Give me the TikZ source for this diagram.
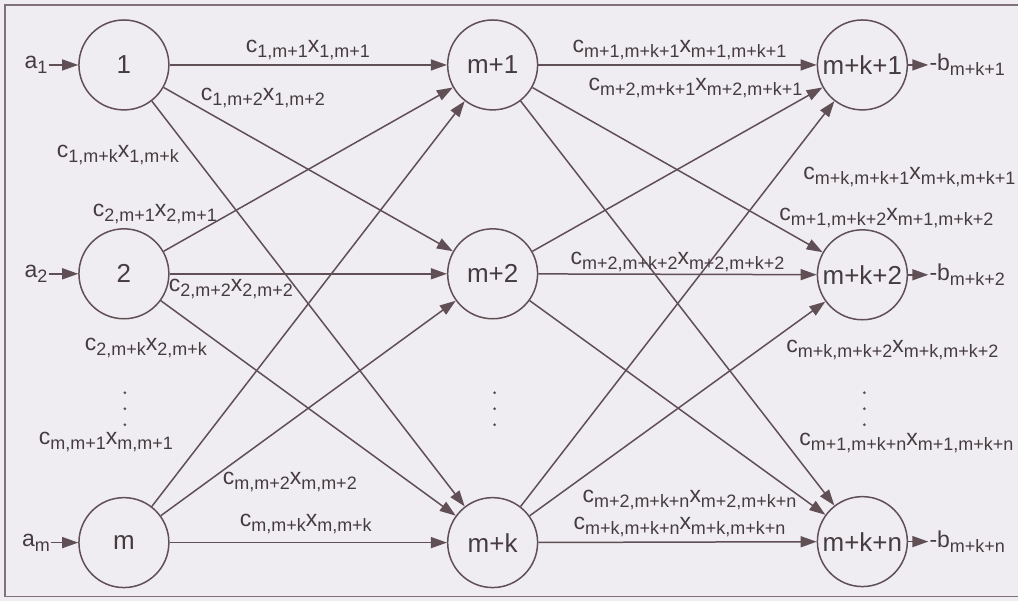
\documentclass[tikz,border=0pt]{standalone}
\usepackage{fontspec}
\setmainfont{Liberation Sans}
\usetikzlibrary{arrows.meta}
\definecolor{paper}{RGB}{239,237,241}
\definecolor{ink}{RGB}{96,80,86}
\definecolor{inktext}{RGB}{70,60,64}
\newcommand{\lsub}[1]{\raisebox{-.4ex}{\fontsize{18}{20}\selectfont #1}}
\newcommand{\cxlab}[1]{c\lsub{#1}x\lsub{#1}}

\begin{document}
\begin{tikzpicture}[x=1pt, y=-1pt,
  every node/.style={text=inktext, font=\fontsize{23}{27}\selectfont},
  stop/.style={circle, draw=ink, line width=1.5pt, minimum size=90pt, inner sep=0pt, font=\fontsize{26}{30}\selectfont},
  flow/.style={draw=ink, line width=1.5pt, ->, >={Triangle[length=16pt,width=11pt]}},
  lab/.style={inner sep=1pt}]
\fill[paper] (0,0) rectangle (1019,601);
\draw[ink!80, line width=1.5pt] (1019,5) -- (5,5) -- (5,597) -- (1019,597);

% sources, transshipment points, destinations
\foreach \n/\y in {1/65, 2/274, m/543} {
  \node[stop] (s\n) at (124,\y) {\n};
  \node[lab] (a\n) at (36,\y) {a\lsub{\n}};
  \draw[flow] (a\n) -- (s\n);
}
\foreach \n/\y in {1/65, 2/274, k/543} {
  \node[stop] (h\n) at (493,\y) {m+\n};
}
\foreach \n/\y in {1/65, 2/275, n/542} {
  \node[stop] (d\n) at (863,\y) {m+k+\n};
  \node[lab, anchor=west] (b\n) at (929,\y) {-b\lsub{m+k+\n}};
  \draw[flow] (d\n) -- (b\n);
}
\foreach \i in {1,2,m} \foreach \j in {1,2,k} \draw[flow] (s\i) -- (h\j);
\foreach \j in {1,2,k} \foreach \l in {1,2,n} \draw[flow] (h\j) -- (d\l);

% costs on the arcs
\foreach \i/\j/\x/\y in {1/1/308/50, 1/2/263/98, 1/k/118/155, 2/1/155/214, 2/2/231/289,
    2/k/146/348, m/1/106/442, m/2/290/482, m/k/306/524} {
  \node[lab] (c\i\j) at (\x,\y) {\cxlab{\i,m+\j}};
}
\foreach \j/\l/\x/\y in {1/1/680/50, 2/1/696/88, k/1/910/177, 1/2/887/218, 2/2/678/262,
    k/2/893/350, 1/n/907/443, 2/n/690/500, k/n/680/527} {
  \node[lab] (e\j\l) at (\x,\y) {\cxlab{m+\j,m+k+\l}};
}
% dots
\foreach \x in {125,495,865} \foreach \y in {393,409,425} \fill[ink] (\x,\y) circle (1.5pt);
\end{tikzpicture}
\end{document}
